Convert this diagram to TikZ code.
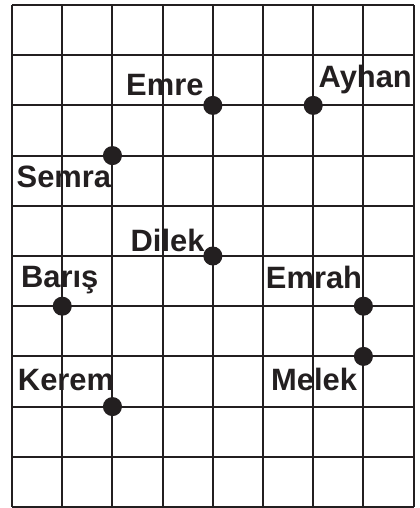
\documentclass[tikz,border=0pt]{standalone}
\usepackage{fontspec}
\setmainfont{Liberation Sans}
\definecolor{InkBlack}{HTML}{231F20}
\usetikzlibrary{positioning, calc}

\begin{document}
\begin{tikzpicture}[
    kiddot/.style={circle, fill=InkBlack, inner sep=0pt, minimum size=0.38cm},
    kidname/.style={inner sep=0pt, font=\fontsize{17.5}{20}\selectfont\bfseries, text=InkBlack}
  ]
  \useasboundingbox (-0.24,-0.02) rectangle (8.11,10.1);
  % Grid
  \draw[InkBlack, line width=1.1pt] (0,0) grid (8,10);
  % Seats
  \node[kiddot] (emre)  at (4,8) {};
  \node[kiddot] (ayhan) at (6,8) {};
  \node[kiddot] (semra) at (2,7) {};
  \node[kiddot] (dilek) at (4,5) {};
  \node[kiddot] (baris) at (1,4) {};
  \node[kiddot] (emrah) at (7,4) {};
  \node[kiddot] (melek) at (7,3) {};
  \node[kiddot] (kerem) at (2,2) {};
  % Names
  \node[kidname, anchor=base east] (emreName)  at ($(emre)+(-0.18,0.20)$)  {Emre};
  \node[kidname, anchor=base west] (ayhanName) at ($(ayhan)+(0.10,0.36)$)  {Ayhan};
  \node[kidname, anchor=base east] (semraName) at ($(semra)+(-0.02,-0.64)$) {Semra};
  \node[kidname, anchor=base east] (dilekName) at ($(dilek)+(-0.16,0.08)$)  {Dilek};
  \node[kidname, anchor=base]      (barisName) at ($(baris)+(-0.05,0.38)$)  {Barış};
  \node[kidname, anchor=base east] (emrahName) at ($(emrah)+(-0.02,0.36)$)  {Emrah};
  \node[kidname, anchor=base east] (melekName) at ($(melek)+(-0.12,-0.68)$) {Melek};
  \node[kidname, anchor=base east] (keremName) at ($(kerem)+(0.04,0.32)$)   {Kerem};
\end{tikzpicture}
\end{document}
